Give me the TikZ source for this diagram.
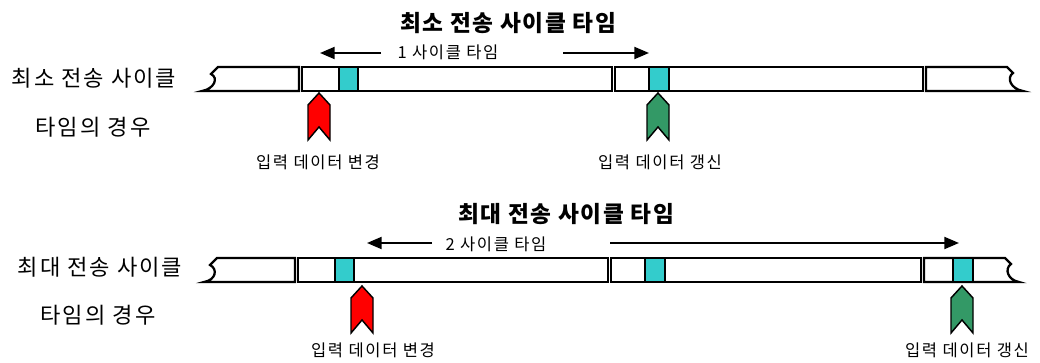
\documentclass[tikz,border=0pt]{standalone}
\usepackage{fontspec}
\setmainfont{Noto Sans CJK KR}
\usetikzlibrary{arrows.meta}
\definecolor{cellcyan}{HTML}{33CCCC}
\definecolor{markred}{HTML}{FF0000}
\definecolor{markgreen}{HTML}{339966}
\tikzset{
  bar/.style={draw=black,line width=1.7pt,fill=white,line join=miter},
  cell/.style={draw=black,line width=1.1pt,fill=cellcyan},
  marker/.style={draw=black,line width=1.1pt},
  span/.style={line width=1.5pt,-{Triangle[length=11pt,width=9pt]}},
  title/.style={font=\bfseries\fontsize{17}{20}\selectfont\addfontfeature{LetterSpace=7},inner sep=0pt},
  side/.style={font=\fontsize{16.6}{20}\selectfont\addfontfeature{LetterSpace=9},inner sep=0pt},
  small/.style={font=\fontsize{12.4}{15}\selectfont\addfontfeature{LetterSpace=10},inner sep=0pt}
}
\newcommand{\mkr}[4]{% center x, tip y, colour, name
  \draw[marker,fill=#3] (#1,#2) -- (#1+11,#2+12) -- (#1+11,#2+47) -- (#1,#2+34)
    -- (#1-11,#2+47) -- (#1-11,#2+12) -- cycle;
  \coordinate (#4) at (#1,#2);}
\begin{document}
\begin{tikzpicture}[x=0.75pt,y=-0.75pt]
\useasboundingbox (0,0) rectangle (1040,363);
% ---------- top ----------
\node[title] (t1) at (508,23) {최소 전송 사이클 타임};
\node[small] (s1) at (448,52) {1 사이클 타임};
\coordinate (s1l) at (381,53); \coordinate (s1lt) at (320,53);
\coordinate (s1r) at (563,53); \coordinate (s1rt) at (649,53);
\draw[span] (s1l) -- (s1lt);
\draw[span] (s1r) -- (s1rt);
\node[side] (l1a) at (94,78) {최소 전송 사이클};
\node[side] (l1b) at (93,127) {타임의 경우};
% bar
\draw[bar] (218,67) -- (299,67) -- (299,91) -- (202,91)
  .. controls (214,89) and (219,78) .. (211,74) -- cycle;
\draw[bar] (302,67) rectangle (612,91);
\draw[bar] (615,67) rectangle (923,91);
\draw[bar] (926,67) -- (1007,67) -- (1013,73)
  .. controls (1006,78) and (1011,89) .. (1023,91) -- (926,91) -- cycle;
\draw[cell] (339,67) rectangle (358,91);
\draw[cell] (649,67) rectangle (669,91);
\mkr{319}{93}{markred}{m1}
\mkr{658}{93}{markgreen}{m2}
\node[small] (c1) at (318,162) {입력 데이터 변경};
\node[small] (u1) at (660,162) {입력 데이터 갱신};
% ---------- bottom ----------
\node[title] (t2) at (566,214) {최대 전송 사이클 타임};
\node[small] (s2) at (496,244) {2 사이클 타임};
\coordinate (s2l) at (432,243); \coordinate (s2lt) at (367,243);
\coordinate (s2r) at (610,243); \coordinate (s2rt) at (959,243);
\draw[span] (s2l) -- (s2lt);
\draw[span] (s2r) -- (s2rt);
\node[side] (l2a) at (100,267) {최대 전송 사이클};
\node[side] (l2b) at (98,315) {타임의 경우};
\draw[bar] (217,258) -- (295,258) -- (295,282) -- (204,282)
  .. controls (216,280) and (218,269) .. (210,265) -- cycle;
\draw[bar] (298,258) rectangle (608,282);
\draw[bar] (611,258) rectangle (921,282);
\draw[bar] (924,258) -- (1005,258) -- (1011,264)
  .. controls (1004,269) and (1008,280) .. (1019,282) -- (924,282) -- cycle;
\draw[cell] (335,258) rectangle (354,282);
\draw[cell] (645,258) rectangle (665,282);
\draw[cell] (953,258) rectangle (973,282);
\mkr{362}{286}{markred}{m3}
\mkr{962}{286}{markgreen}{m4}
\node[small] (c2) at (373,350) {입력 데이터 변경};
\node[small] (u2) at (967,350) {입력 데이터 갱신};
\end{tikzpicture}
\end{document}
